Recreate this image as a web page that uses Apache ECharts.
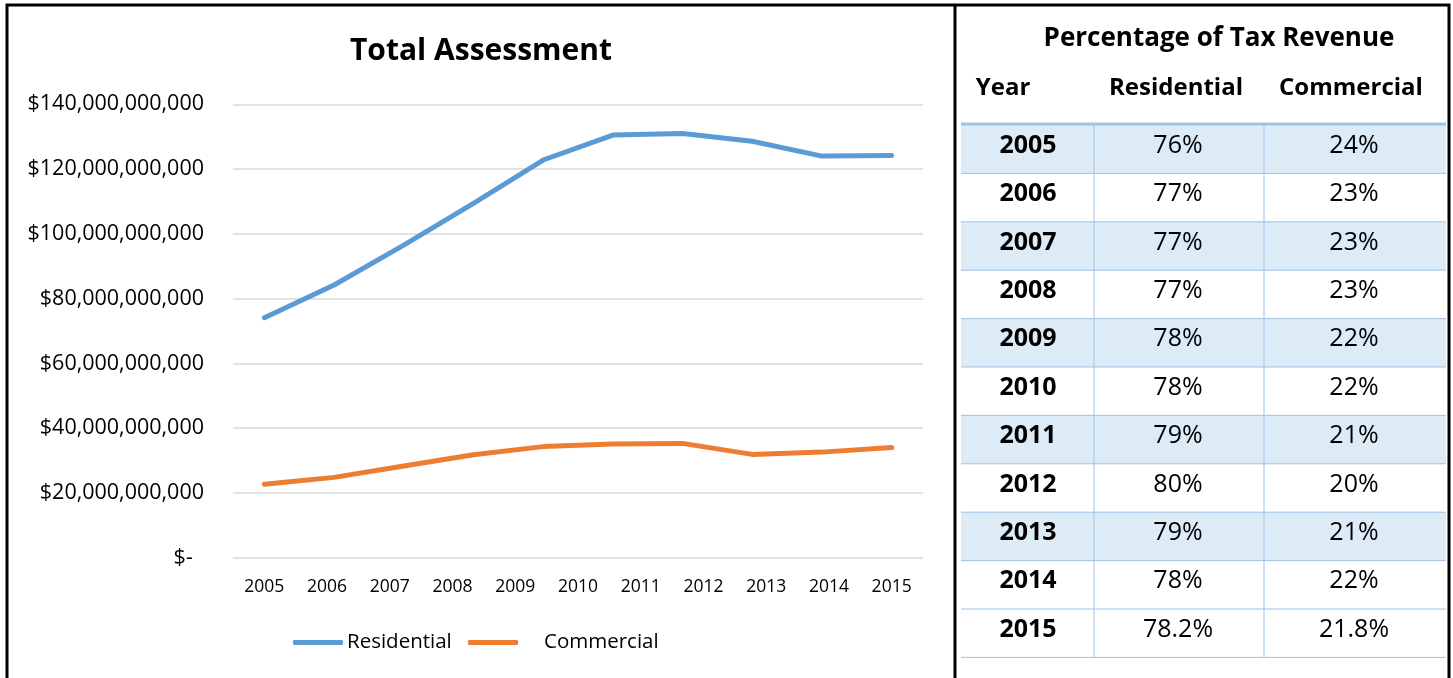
<!DOCTYPE html>
<html>
<head>
<meta charset="utf-8">
<script src="https://cdn.jsdelivr.net/npm/echarts@6/dist/echarts.min.js"></script>
<style>
html,body{margin:0;padding:0;background:#fff;}
#chart{width:1453px;height:678px;}
</style>
</head>
<body>
<div id="chart"></div>
<script>
// ---- data ----
const yearLabels = ['2005','2006','2007','2008','2009','2010','2011','2012','2013','2014','2015'];
const linePoints = ['p1','p2','p3','p4','p5','p6','p7','p8','p9','p10'];
const residentialAssessment = [74.1e9, 84.2e9, 96.5e9, 109.4e9, 122.8e9, 130.5e9, 131.0e9, 128.6e9, 124.0e9, 124.2e9];
const commercialAssessment = [22.7e9, 24.8e9, 28.3e9, 31.8e9, 34.3e9, 35.1e9, 35.3e9, 31.9e9, 32.6e9, 34.0e9];
const yTicks = {min: 0, max: 140e9, interval: 20e9};
const tableYears = ['2005','2006','2007','2008','2009','2010','2011','2012','2013','2014','2015'];
const residentialPct = ['76%','77%','77%','77%','78%','78%','79%','80%','79%','78%','78.2%'];
const commercialPct = ['24%','23%','23%','23%','22%','22%','21%','20%','21%','22%','21.8%'];
const shadedRows = [0, 2, 4, 6, 8];
const tableHeaders = ['Year', 'Residential', 'Commercial'];

const FONT = '"Open Sans", "Noto Sans", sans-serif';
const BLUE = '#5b9bd5', ORANGE = '#ed7d31';
const TBL_LINE = '#9dc3e6', TBL_FILL = '#ddebf7';

// ---- table graphics ----
const colX = [961, 1094, 1264, 1446];
const colCenters = [1028, 1178, 1354];
const tableTop = 125, rowH = 48.4;
const g = [];
g.push({type:'rect', shape:{x:7, y:5, width:1442, height:690}, style:{fill:'none', stroke:'#000', lineWidth:3}, z:100});
g.push({type:'line', shape:{x1:955, y1:5, x2:955, y2:678}, style:{stroke:'#000', lineWidth:3}, z:100});
g.push({type:'text', style:{text:'Total Assessment', x:481, y:51.5, font:'bold 30px ' + FONT, fill:'#000', align:'center', verticalAlign:'middle', textAlign:'center', textVerticalAlign:'middle'}});
g.push({type:'text', style:{text:'Percentage of Tax Revenue', x:1219, y:38.5, font:'bold 26px ' + FONT, fill:'#000', align:'center', verticalAlign:'middle', textAlign:'center', textVerticalAlign:'middle'}});
const headerX = [1003, 1176, 1351];
tableHeaders.forEach((h, i) => {
  g.push({type:'text', style:{text:h, x:headerX[i], y:88.5, font:'bold 24px ' + FONT, fill:'#000', align:'center', verticalAlign:'middle', textAlign:'center', textVerticalAlign:'middle'}});
});
tableYears.forEach((yr, i) => {
  const top = tableTop + i * rowH;
  if (shadedRows.indexOf(i) >= 0) {
    g.push({type:'rect', shape:{x:colX[0], y:top, width:colX[3]-colX[0], height:rowH}, style:{fill:TBL_FILL}, z:1});
  }
  g.push({type:'line', shape:{x1:colX[0], y1:top + rowH, x2:colX[3], y2:top + rowH}, style:{stroke:TBL_LINE, lineWidth:1}, z:2});
  const cy = top + rowH / 2 - 3.5;
  const vals = [yr, residentialPct[i], commercialPct[i]];
  vals.forEach((v, c) => {
    g.push({type:'text', z:3, style:{text:v, x:colCenters[c], y:cy, font:(c === 0 ? 'bold 25px ' : '25px ') + FONT, fill:'#000', align:'center', verticalAlign:'middle', textAlign:'center', textVerticalAlign:'middle'}});
  });
});
g.push({type:'line', shape:{x1:colX[0], y1:tableTop - 1, x2:colX[3], y2:tableTop - 1}, style:{stroke:TBL_LINE, lineWidth:3}, z:2});
[colX[1], colX[2]].forEach(x => {
  g.push({type:'line', shape:{x1:x, y1:tableTop, x2:x, y2:tableTop + rowH * tableYears.length}, style:{stroke:TBL_LINE, lineWidth:1}, z:2});
});

const chart = echarts.init(document.getElementById('chart'));
const yFmt = v => v === 0 ? '$-  ' : '$' + String(Math.round(v)).replace(/\B(?=(\d{3})+(?!\d))/g, ',');
chart.setOption({
  backgroundColor: '#fff',
  animation: false,
  grid: [
    {left: 233, right: 530, top: 104.3, bottom: 120.3},
    {left: 264.4, right: 561.4, top: 104.3, bottom: 120.3}
  ],
  xAxis: [
    {type:'category', gridIndex:0, data:yearLabels, boundaryGap:true,
     axisLine:{show:false}, axisTick:{show:false},
     axisLabel:{color:'#000', fontFamily:FONT, fontSize:17.5, margin:20}},
    {type:'category', gridIndex:1, data:linePoints, boundaryGap:false, show:false}
  ],
  yAxis: [
    {type:'value', gridIndex:0, min:yTicks.min, max:yTicks.max, interval:yTicks.interval,
     axisLine:{show:false}, axisTick:{show:false},
     splitLine:{lineStyle:{color:'#d9d9d9', width:1.5}},
     axisLabel:{color:'#000', fontFamily:FONT, fontSize:21.5, margin:29, formatter:yFmt}},
    {type:'value', gridIndex:1, min:yTicks.min, max:yTicks.max, interval:yTicks.interval, show:false}
  ],
  legend: [
    {data:['Residential'], left:293, top:632, padding:0, itemWidth:50, itemHeight:5, icon:'roundRect', itemGap:0,
     textStyle:{color:'#000', fontFamily:FONT, fontSize:20.5, padding:[0,0,0,-1]}},
    {data:['Commercial'], left:468, top:632, padding:0, itemWidth:50, itemHeight:5, icon:'roundRect', itemGap:0,
     textStyle:{color:'#000', fontFamily:FONT, fontSize:20.5, padding:[0,0,0,21]}}
  ],
  series: [
    {name:'Residential', type:'line', xAxisIndex:1, yAxisIndex:1, data:residentialAssessment, symbol:'none',
     lineStyle:{color:BLUE, width:5, cap:'round', join:'round'}, itemStyle:{color:BLUE}},
    {name:'Commercial', type:'line', xAxisIndex:1, yAxisIndex:1, data:commercialAssessment, symbol:'none',
     lineStyle:{color:ORANGE, width:5, cap:'round', join:'round'}, itemStyle:{color:ORANGE}}
  ],
  graphic: g
});
</script>
</body>
</html>
